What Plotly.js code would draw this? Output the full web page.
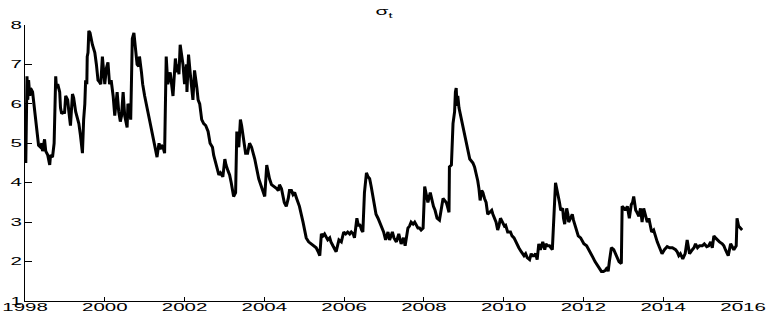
<!DOCTYPE html>
<html>
<head>
<meta charset="utf-8">
<script src="https://cdn.plot.ly/plotly-3.0.1.min.js"></script>
<style>
html,body{margin:0;padding:0;background:#fff;}
#chart{width:766px;height:325px;}
</style>
</head>
<body>
<div id="chart"></div>
<script>
var years = [
1998.02,1998.05,1998.07,1998.09,1998.12,1998.14,1998.19,1998.24,1998.29,1998.34,
1998.39,1998.42,1998.44,1998.49,1998.52,1998.57,1998.62,1998.64,1998.69,1998.73,
1998.77,1998.79,1998.82,1998.87,1998.89,1998.92,1998.97,1998.99,1999.02,1999.07,
1999.10,1999.14,1999.19,1999.22,1999.27,1999.32,1999.35,1999.39,1999.44,1999.47,
1999.50,1999.52,1999.55,1999.56,1999.58,1999.60,1999.63,1999.69,1999.75,1999.79,
1999.83,1999.87,1999.90,1999.94,1999.97,2000.00,2000.04,2000.08,2000.12,2000.16,
2000.21,2000.25,2000.27,2000.31,2000.35,2000.39,2000.42,2000.46,2000.50,2000.56,
2000.58,2000.62,2000.65,2000.69,2000.73,2000.77,2000.81,2000.85,2000.87,2000.92,
2000.95,2001.00,2001.05,2001.08,2001.14,2001.18,2001.21,2001.25,2001.31,2001.33,
2001.36,2001.39,2001.42,2001.46,2001.50,2001.54,2001.58,2001.64,2001.68,2001.71,
2001.77,2001.81,2001.83,2001.86,2001.89,2001.93,2001.96,2002.00,2002.05,2002.06,
2002.10,2002.14,2002.17,2002.21,2002.25,2002.29,2002.31,2002.34,2002.38,2002.43,
2002.48,2002.53,2002.59,2002.64,2002.70,2002.73,2002.78,2002.83,2002.86,2002.90,
2002.96,2003.01,2003.04,2003.09,2003.13,2003.17,2003.21,2003.23,2003.28,2003.31,
2003.36,2003.40,2003.43,2003.46,2003.51,2003.53,2003.58,2003.63,2003.68,2003.71,
2003.76,2003.80,2003.83,2003.86,2003.91,2003.96,2004.01,2004.06,2004.10,2004.13,
2004.18,2004.26,2004.31,2004.35,2004.38,2004.43,2004.46,2004.50,2004.55,2004.60,
2004.63,2004.68,2004.72,2004.76,2004.81,2004.88,2004.97,2005.05,2005.11,2005.18,
2005.24,2005.30,2005.35,2005.39,2005.43,2005.47,2005.51,2005.56,2005.59,2005.64,
2005.67,2005.72,2005.76,2005.80,2005.87,2005.93,2005.99,2006.04,2006.09,2006.14,
2006.18,2006.23,2006.26,2006.32,2006.36,2006.39,2006.44,2006.47,2006.51,2006.56,
2006.60,2006.64,2006.68,2006.73,2006.76,2006.80,2006.85,2006.89,2006.93,2006.96,
2006.99,2007.04,2007.10,2007.14,2007.21,2007.25,2007.31,2007.37,2007.43,2007.49,
2007.53,2007.60,2007.64,2007.68,2007.73,2007.77,2007.82,2007.85,2007.89,2007.93,
2007.98,2008.02,2008.06,2008.10,2008.16,2008.19,2008.24,2008.28,2008.33,2008.39,
2008.43,2008.48,2008.52,2008.56,2008.59,2008.63,2008.64,2008.69,2008.73,2008.77,
2008.79,2008.81,2008.83,2008.85,2008.88,2008.91,2008.94,2008.98,2009.02,2009.06,
2009.11,2009.15,2009.19,2009.23,2009.27,2009.31,2009.35,2009.38,2009.41,2009.45,
2009.48,2009.52,2009.56,2009.60,2009.65,2009.70,2009.73,2009.77,2009.81,2009.85,
2009.88,2009.92,2009.97,2010.02,2010.05,2010.10,2010.17,2010.21,2010.26,2010.32,
2010.38,2010.44,2010.51,2010.55,2010.59,2010.65,2010.69,2010.72,2010.76,2010.80,
2010.84,2010.88,2010.92,2010.98,2011.03,2011.06,2011.09,2011.15,2011.22,2011.30,
2011.34,2011.37,2011.40,2011.43,2011.48,2011.50,2011.53,2011.58,2011.61,2011.63,
2011.68,2011.72,2011.75,2011.80,2011.87,2011.93,2012.01,2012.08,2012.14,2012.18,
2012.24,2012.29,2012.35,2012.40,2012.45,2012.50,2012.55,2012.60,2012.62,2012.65,
2012.70,2012.76,2012.80,2012.85,2012.89,2012.95,2012.97,2013.02,2013.05,2013.10,
2013.15,2013.20,2013.23,2013.26,2013.31,2013.34,2013.39,2013.43,2013.47,2013.51,
2013.56,2013.60,2013.64,2013.67,2013.71,2013.76,2013.81,2013.85,2013.91,2013.97,
2014.03,2014.10,2014.16,2014.23,2014.31,2014.35,2014.39,2014.43,2014.49,2014.55,
2014.60,2014.66,2014.73,2014.77,2014.81,2014.86,2014.91,2014.98,2015.03,2015.09,
2015.14,2015.19,2015.23,2015.27,2015.31,2015.35,2015.41,2015.48,2015.52,2015.56,
2015.60,2015.63,2015.69,2015.72,2015.77,2015.83,2015.85,2015.89,2015.94,2015.98
];

var sigma = [
4.5,6.7,6.1,6.6,6.2,6.4,6.3,5.8,5.4,4.95,
4.9,5.0,4.8,5.1,4.8,4.7,4.45,4.7,4.65,5.0,
6.7,6.4,6.5,6.3,5.9,5.75,5.8,5.75,6.2,6.1,
5.8,5.45,6.25,6.15,5.8,5.6,5.5,5.2,4.75,5.6,
6.0,6.6,6.5,7.2,7.3,7.85,7.8,7.5,7.3,7.0,
6.6,6.55,6.5,7.2,6.7,6.5,6.9,7.05,6.5,6.6,
6.2,5.7,5.9,6.3,5.8,5.55,5.7,6.3,5.7,5.4,
6.0,5.9,5.6,7.65,7.8,7.4,7.0,6.95,7.2,6.8,
6.5,6.2,5.9,5.8,5.5,5.3,5.2,5.0,4.65,4.8,
5.0,4.85,4.95,4.9,4.75,7.2,6.5,6.8,6.5,6.2,
7.15,6.8,7.0,6.75,7.5,7.2,7.0,6.5,7.0,6.3,
7.25,6.8,6.5,6.1,6.85,6.6,6.4,6.1,6.0,5.6,
5.5,5.45,5.3,5.0,4.9,4.7,4.5,4.3,4.2,4.25,
4.15,4.6,4.45,4.3,4.2,4.0,3.75,3.65,3.75,5.3,
4.9,5.6,5.45,5.2,4.9,4.75,4.75,5.0,4.9,4.8,
4.6,4.4,4.2,4.1,3.95,3.8,3.65,4.45,4.2,4.1,
3.95,3.9,3.85,3.8,3.95,3.85,3.7,3.5,3.4,3.6,
3.8,3.8,3.7,3.75,3.6,3.4,3.0,2.6,2.5,2.45,
2.4,2.35,2.25,2.15,2.7,2.65,2.7,2.6,2.55,2.6,
2.5,2.4,2.3,2.25,2.55,2.5,2.75,2.7,2.75,2.7,
2.75,2.7,2.6,3.1,2.9,2.95,2.8,2.75,3.75,4.25,
4.15,4.1,3.9,3.6,3.4,3.2,3.1,3.0,2.9,2.8,
2.75,2.55,2.75,2.55,2.75,2.6,2.5,2.7,2.45,2.6,
2.4,2.85,2.9,3.0,2.95,3.0,2.9,2.85,2.85,2.8,
2.85,3.9,3.7,3.5,3.75,3.6,3.4,3.3,3.1,3.05,
3.3,3.6,3.55,3.5,3.4,3.25,4.4,4.45,5.5,5.8,
6.3,6.4,5.95,6.2,5.9,5.75,5.6,5.4,5.2,5.0,
4.75,4.6,4.55,4.5,4.4,4.25,4.05,3.85,3.55,3.8,
3.75,3.6,3.5,3.2,3.25,3.3,3.2,3.1,3.0,2.8,
2.9,3.1,3.0,2.9,2.92,2.75,2.75,2.65,2.6,2.45,
2.35,2.25,2.15,2.2,2.1,2.05,2.2,2.15,2.15,2.2,
2.05,2.45,2.3,2.5,2.3,2.45,2.4,2.4,2.3,4.0,
3.8,3.7,3.5,3.3,3.35,3.1,2.95,3.35,3.2,3.0,
3.1,3.2,3.05,2.9,2.65,2.6,2.45,2.4,2.3,2.2,
2.1,2.0,1.9,1.8,1.75,1.75,1.78,1.85,1.75,2.0,
2.35,2.3,2.2,2.05,2.0,1.95,3.4,3.35,3.3,3.4,
3.1,3.45,3.5,3.65,3.3,3.25,3.15,3.35,3.0,3.35,
3.15,3.0,3.1,2.9,2.75,2.8,2.6,2.5,2.35,2.2,
2.3,2.38,2.35,2.35,2.3,2.25,2.15,2.2,2.07,2.2,
2.55,2.2,2.3,2.35,2.45,2.35,2.4,2.4,2.45,2.38,
2.4,2.5,2.35,2.65,2.6,2.55,2.5,2.45,2.4,2.3,
2.2,2.15,2.45,2.4,2.3,2.4,3.1,2.9,2.85,2.8
];

var xTickVals = [1998, 2000, 2002, 2004, 2006, 2008, 2010, 2012, 2014, 2016];
var xTickText = ['1998', '2000', '2002', '2004', '2006', '2008', '2010', '2012', '2014', '2016'];
var yTickVals = [1, 2, 3, 4, 5, 6, 7, 8];
var yTickText = ['1', '2', '3', '4', '5', '6', '7', '8'];
var chartTitle = '\u03c3<sub>t</sub>';

var trace = {
  x: years,
  y: sigma,
  type: 'scatter',
  mode: 'lines',
  line: {color: '#000000', width: 3},
  hoverinfo: 'skip'
};

var layout = {
  width: 766,
  height: 325,
  margin: {l: 25, r: 23, t: 25, b: 24, pad: 0},
  paper_bgcolor: '#ffffff',
  plot_bgcolor: '#ffffff',
  showlegend: false,
  font: {family: 'Liberation Sans, Arial, sans-serif', size: 10.5, color: '#000000'},
  title: {
    text: chartTitle,
    font: {family: 'Liberation Sans, Arial, sans-serif', size: 11, color: '#000000'},
    x: 0.5, xref: 'paper', xanchor: 'center',
    y: 0.965, yref: 'container', yanchor: 'middle'
  },
  xaxis: {
    range: [1998, 2016],
    tickvals: xTickVals,
    ticktext: xTickText,
    ticks: 'inside',
    ticklen: 4,
    tickwidth: 1,
    tickcolor: '#000000',
    showline: true,
    linecolor: '#000000',
    linewidth: 1,
    showgrid: false,
    zeroline: false,
    mirror: false,
    ticklabelstandoff: 0,
    tickfont: {family: 'Liberation Sans, Arial, sans-serif', size: 10.5, color: '#000000'}
  },
  yaxis: {
    range: [1, 8],
    tickvals: yTickVals,
    ticktext: yTickText,
    ticks: 'inside',
    ticklen: 7,
    tickwidth: 1,
    tickcolor: '#000000',
    showline: true,
    linecolor: '#000000',
    linewidth: 1,
    showgrid: false,
    zeroline: false,
    mirror: false,
    tickfont: {family: 'Liberation Sans, Arial, sans-serif', size: 10.5, color: '#000000'}
  }
};

function stretchText(sel, factor) {
  var nodes = document.querySelectorAll(sel);
  nodes.forEach(function (el) {
    var w = el.getComputedTextLength();
    if (w > 0) {
      el.setAttribute('textLength', (w * factor).toFixed(2));
      el.setAttribute('lengthAdjust', 'spacingAndGlyphs');
    }
  });
}

function raiseText(sel, dy) {
  document.querySelectorAll(sel).forEach(function (el) {
    var y = parseFloat(el.getAttribute('y') || '0');
    el.setAttribute('y', (y - dy).toFixed(2));
  });
}

Plotly.newPlot('chart', [trace], layout, {staticPlot: true, displayModeBar: false}).then(function () {
  raiseText('#chart .xtick text', 4);
  stretchText('#chart .xtick text', 1.95);
  stretchText('#chart .ytick text', 1.95);
  stretchText('#chart .gtitle', 1.9);
});
</script>
</body>
</html>
